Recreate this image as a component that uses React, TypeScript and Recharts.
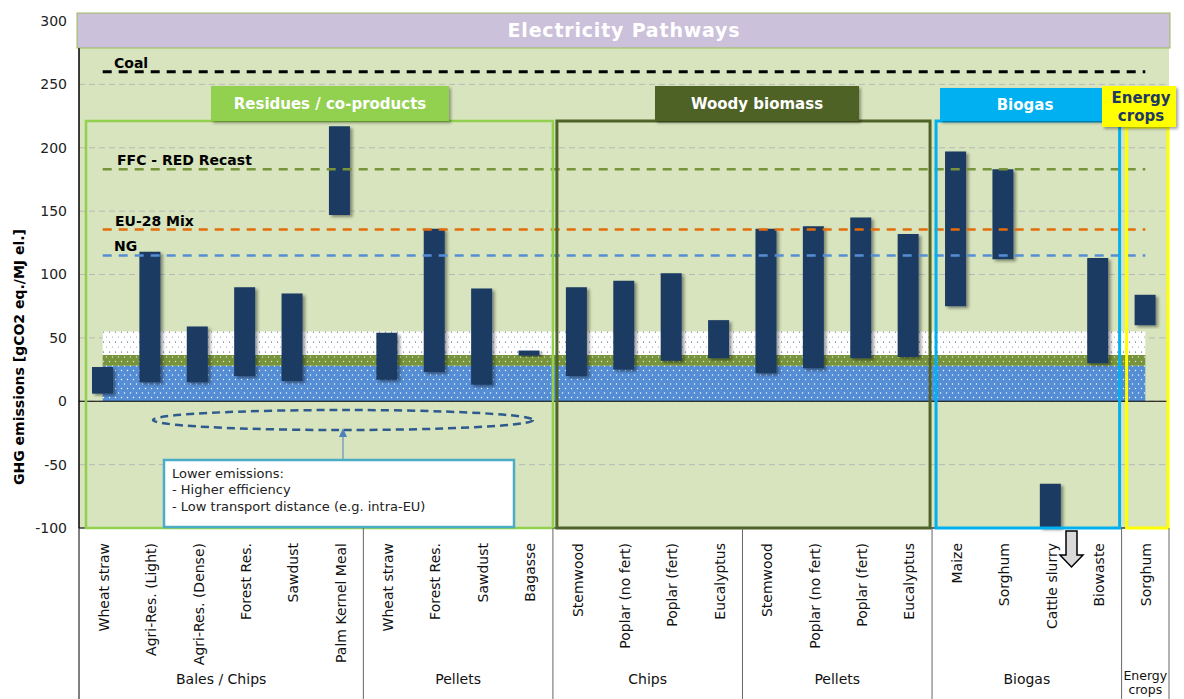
import React from "react";
import {
  ComposedChart,
  Bar,
  Line,
  Area,
  XAxis,
  YAxis,
  CartesianGrid,
  ReferenceLine,
} from "recharts";

// ---- data ----
const categories = [
  "Wheat straw", "Agri-Res. (Light)", "Agri-Res. (Dense)", "Forest Res.", "Sawdust", "Palm Kernel Meal",
  "Wheat straw", "Forest Res.", "Sawdust", "Bagasse",
  "Stemwood", "Poplar (no fert)", "Poplar (fert)", "Eucalyptus",
  "Stemwood", "Poplar (no fert)", "Poplar (fert)", "Eucalyptus",
  "Maize", "Sorghum", "Cattle slurry", "Biowaste",
  "Sorghum",
];
const lowValues = [6, 15, 15, 20, 16, 147, 17, 23, 13, 36, 20, 25, 32, 34, 22, 26, 34, 35, 75, 112, -100, 30, 60];
const highValues = [27, 118, 59, 90, 85, 217, 54, 136, 89, 40, 90, 95, 101, 64, 136, 138, 145, 132, 197, 183, -65, 113, 84];

// comparators (gCO2 eq./MJ el.)
const coalLevel = 260;
const ffcLevel = 183;
const euMixLevel = 135.5;
const ngLevel = 115;

// background bands (stacked)
const bandBlue = 28;
const bandGreen = 8.5;
const bandWhite = 18.5;

const groupLabels = ["Bales / Chips", "Pellets", "Chips", "Pellets", "Biogas", "Energy crops"];
const groupSizes = [6, 4, 4, 4, 4, 1];
const yTicks = [-100, -50, 0, 50, 100, 150, 200, 250, 300];

const data = categories.map((name, i) => ({
  id: "c" + i,
  name,
  range: [lowValues[i], highValues[i]],
  coal: coalLevel,
  ffc: ffcLevel,
  eu: euMixLevel,
  ng: ngLevel,
  blue: bandBlue,
  green: bandGreen,
  white: bandWhite,
}));

// ---- layout ----
const W = 1184;
const H = 699;
const PL = 79;
const PR = 1169;
const PT = 21;
const PB = 528;
const band = (PR - PL) / categories.length;
const xe = (i: number) => PL + i * band;
const yv = (v: number) => PT + ((300 - v) / 400) * (PB - PT);

const FONT = "'DejaVu Sans', Verdana, sans-serif";

const CategoryTick = (props: any) => {
  const { x, y, payload } = props;
  const idx = Number(String(payload.value).slice(1));
  return (
    <text
      transform={`translate(${x + 1}, ${y + 7}) rotate(-90)`}
      textAnchor="end"
      dy="0.36em"
      fontSize={14}
      fontFamily={FONT}
      fill="#111"
    >
      {categories[idx]}
    </text>
  );
};

function Overlay() {
  // group separators under the axis
  const edges: number[] = [0];
  groupSizes.forEach((s) => edges.push(edges[edges.length - 1] + s));

  const lineLabels = [
    { text: "Coal", v: coalLevel, x: 114 },
    { text: "FFC - RED Recast", v: ffcLevel, x: 117 },
    { text: "EU-28 Mix", v: euMixLevel, x: 115 },
    { text: "NG", v: ngLevel, x: 114 },
  ];

  return (
    <svg
      width={W}
      height={H}
      style={{ position: "absolute", left: 0, top: 0, pointerEvents: "none" }}
      fontFamily={FONT}
    >
      <defs>
        <filter id="boxShadow" x="-10%" y="-10%" width="130%" height="140%">
          <feDropShadow dx="2" dy="2" stdDeviation="1.5" floodColor="#000" floodOpacity="0.35" />
        </filter>
      </defs>

      {/* header */}
      <rect x={77} y={13} width={1093} height={35} fill="#CCC1DA" stroke="#9BBB59" strokeWidth={1} />
      <text x={624} y={37} textAnchor="middle" fill="#fff" fontSize={19} fontWeight="bold" letterSpacing={0.8}>
        Electricity Pathways
      </text>

      {/* comparator labels */}
      {lineLabels.map((l) => (
        <text key={l.text} x={l.x} y={yv(l.v) - 4} fontSize={14} fontWeight="bold" fill="#000">
          {l.text}
        </text>
      ))}

      {/* group boxes */}
      <rect x={xe(0) + 7} y={121} width={xe(10) - xe(0) - 7} height={PB - 121} fill="none" stroke="#92D050" strokeWidth={2.5} />
      <rect x={xe(10) + 4} y={121} width={xe(18) - xe(10) - 6} height={PB - 121} fill="none" stroke="#4F6228" strokeWidth={3} />
      <rect x={xe(18) + 4} y={121} width={xe(22) - xe(18) - 6} height={PB - 121} fill="none" stroke="#00B0F0" strokeWidth={3} />
      <rect x={xe(22) + 5} y={127} width={PR - xe(22) - 6} height={PB - 127} fill="none" stroke="#FFFF00" strokeWidth={3} />

      {/* group labels */}
      <g filter="url(#boxShadow)">
        <rect x={211} y={86} width={238} height={35} fill="#92D050" />
        <rect x={655} y={86} width={204} height={35} fill="#4F6228" />
        <rect x={940} y={88} width={172} height={33} fill="#00B0F0" />
        <rect x={1102} y={86} width={74} height={41} fill="#FFFF00" />
      </g>
      <text x={330} y={109} textAnchor="middle" fill="#fff" fontSize={15} fontWeight="bold">
        Residues / co-products
      </text>
      <text x={757} y={109} textAnchor="middle" fill="#fff" fontSize={15} fontWeight="bold">
        Woody biomass
      </text>
      <text x={1025} y={110} textAnchor="middle" fill="#fff" fontSize={15} fontWeight="bold">
        Biogas
      </text>
      <text x={1141} y={103} textAnchor="middle" fill="#1F3864" fontSize={15} fontWeight="bold">
        Energy
      </text>
      <text x={1141} y={121} textAnchor="middle" fill="#1F3864" fontSize={15} fontWeight="bold">
        crops
      </text>

      {/* callout */}
      <ellipse cx={343} cy={420} rx={190} ry={10} fill="none" stroke="#2E5A8E" strokeWidth={2.5} strokeDasharray="8 5" />
      <line x1={343} y1={459} x2={343} y2={436} stroke="#4F81BD" strokeWidth={1} />
      <polygon points="343,428 339,437 347,437" fill="#4F81BD" />
      <rect x={164} y={460} width={350} height={67} fill="#fff" stroke="#4BACC6" strokeWidth={2.5} />
      <text x={172} y={478} fontSize={13} fill="#222">Lower emissions:</text>
      <text x={172} y={494} fontSize={13} fill="#222">- Higher efficiency</text>
      <text x={172} y={511} fontSize={13} fill="#222">- Low transport distance (e.g. intra-EU)</text>

      {/* off-scale arrow for cattle slurry */}
      <polygon
        points="1066,531 1077,531 1077,555 1083,555 1071.5,567 1060,555 1066,555"
        fill="#D9D9D9"
        stroke="#000"
        strokeWidth={1.5}
      />

      {/* axis separators + group names */}
      <line x1={PL} y1={PT + 27} x2={PL} y2={H} stroke="#000" strokeWidth={1} />
      {edges.slice(1).map((e, i) => (
        <line key={i} x1={xe(e)} y1={PB} x2={xe(e)} y2={H} stroke="#666" strokeWidth={1} />
      ))}
      {groupLabels.map((g, i) => {
        const cx = (xe(edges[i]) + xe(edges[i + 1])) / 2;
        if (g === "Energy crops") {
          return (
            <g key={i}>
              <text x={cx} y={680} textAnchor="middle" fontSize={12.5} fill="#111">Energy</text>
              <text x={cx} y={694} textAnchor="middle" fontSize={12.5} fill="#111">crops</text>
            </g>
          );
        }
        return (
          <text key={i} x={cx} y={684} textAnchor="middle" fontSize={14} fill="#111">
            {g}
          </text>
        );
      })}

      {/* y axis title */}
      <text
        transform={`translate(24, 357) rotate(-90)`}
        textAnchor="middle"
        fontSize={14}
        fontWeight="bold"
        fill="#000"
      >
        GHG emissions [gCO2 eq./MJ el.]
      </text>
    </svg>
  );
}

export default function App() {
  return (
    <div style={{ position: "absolute", left: 0, top: 0, width: W, height: H, background: "#fff", overflow: "hidden" }}>
      <ComposedChart
        width={W}
        height={H}
        data={data}
        margin={{ top: PT, right: W - PR, left: 0, bottom: 0 }}
        barCategoryGap={0}
      >
        <defs>
          <pattern id="patBlue" width="6" height="9" patternUnits="userSpaceOnUse">
            <rect width="6" height="9" fill="#558ED5" />
            <circle cx="1.5" cy="1.5" r="0.7" fill="#fff" />
            <circle cx="4.5" cy="6" r="0.7" fill="#fff" />
          </pattern>
          <pattern id="patGreen" width="6" height="9" patternUnits="userSpaceOnUse">
            <rect width="6" height="9" fill="#77933C" />
            <circle cx="1.5" cy="1.5" r="0.7" fill="#dfe8c8" />
            <circle cx="4.5" cy="6" r="0.7" fill="#dfe8c8" />
          </pattern>
          <pattern id="patWhite" width="6" height="10" patternUnits="userSpaceOnUse">
            <rect width="6" height="10" fill="#fff" />
            <circle cx="1.5" cy="2" r="0.6" fill="#1F3864" />
            <circle cx="4.5" cy="7" r="0.6" fill="#8896b0" />
          </pattern>
          <filter id="barShadow" x="-20%" y="-5%" width="160%" height="115%">
            <feDropShadow dx="2.5" dy="2" stdDeviation="1.5" floodColor="#000" floodOpacity="0.4" />
          </filter>
        </defs>

        <CartesianGrid vertical={false} stroke="#b9b9b9" strokeDasharray="6 4" fill="#D7E4BD" />

        <XAxis
          dataKey="id"
          interval={0}
          height={H - PB}
          tickLine={false}
          axisLine={{ stroke: "#000" }}
          tick={<CategoryTick />}
        />
        <YAxis
          domain={[-100, 300]}
          ticks={yTicks}
          width={PL}
          tickLine={false}
          tickSize={6}
          tickMargin={6}
          axisLine={{ stroke: "#000" }}
          tick={{ fontSize: 14, fill: "#222", fontFamily: FONT }}
        />

        <Area type="linear" dataKey="blue" stackId="bands" stroke="none" fill="url(#patBlue)" fillOpacity={1} isAnimationActive={false} />
        <Area type="linear" dataKey="green" stackId="bands" stroke="none" fill="url(#patGreen)" fillOpacity={1} isAnimationActive={false} />
        <Area type="linear" dataKey="white" stackId="bands" stroke="none" fill="url(#patWhite)" fillOpacity={1} isAnimationActive={false} />

        <ReferenceLine y={0} stroke="#000" strokeWidth={1.2} />

        <Bar dataKey="range" barSize={21} fill="#1C3A62" filter="url(#barShadow)" isAnimationActive={false} />

        <Line type="linear" dataKey="coal" stroke="#000" strokeWidth={3} strokeDasharray="9 7" dot={false} isAnimationActive={false} />
        <Line type="linear" dataKey="ffc" stroke="#77933C" strokeWidth={2.5} strokeDasharray="9 7" dot={false} isAnimationActive={false} />
        <Line type="linear" dataKey="eu" stroke="#E46C0A" strokeWidth={2.5} strokeDasharray="9 7" dot={false} isAnimationActive={false} />
        <Line type="linear" dataKey="ng" stroke="#558ED5" strokeWidth={2.5} strokeDasharray="9 7" dot={false} isAnimationActive={false} />
      </ComposedChart>
      <Overlay />
    </div>
  );
}
